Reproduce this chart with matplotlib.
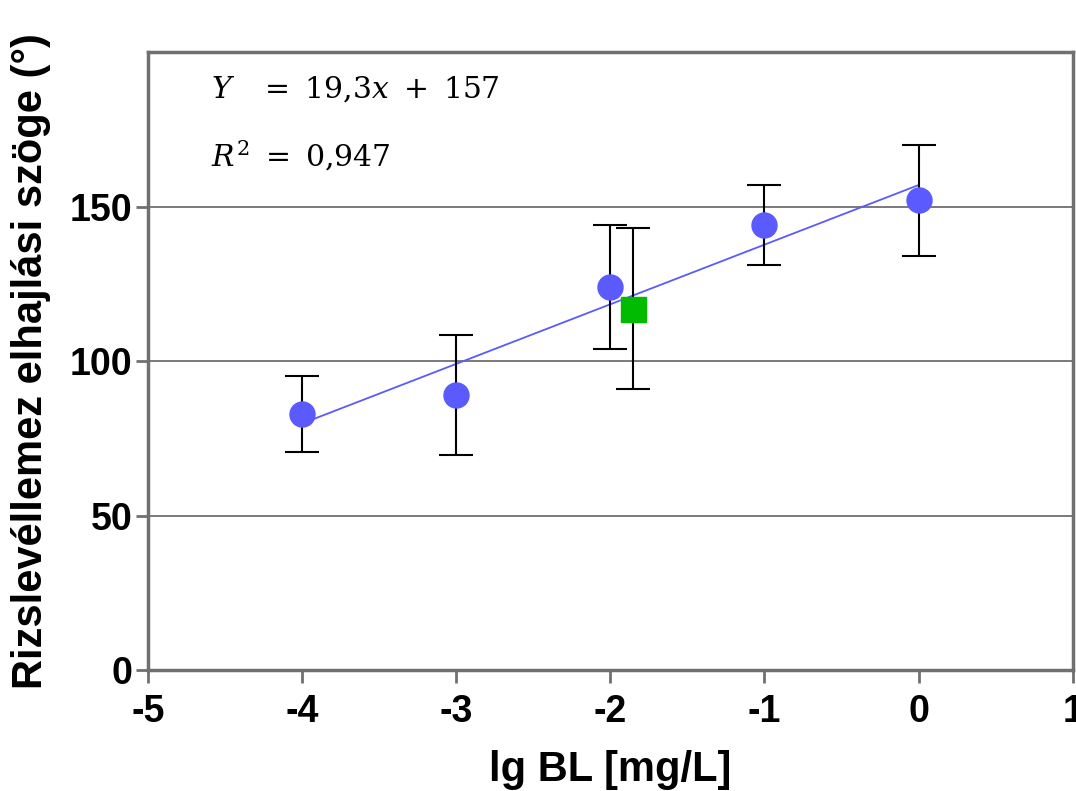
import matplotlib
matplotlib.use("Agg")
import matplotlib.pyplot as plt
import numpy as np

plt.rcParams['font.family'] = ['Liberation Sans', 'DejaVu Sans']
plt.rcParams['mathtext.fontset'] = 'dejavuserif'
plt.rcParams['axes.unicode_minus'] = False

# BL concentration series (log scale) and leaf angle
lg_bl = [-4, -3, -2, -1, 0]
angle = [83, 89, 124, 144, 152]
angle_err_hi = [12.2, 19.4, 20.0, 12.9, 17.8]
angle_err_lo = [12.4, 19.3, 20.0, 12.9, 18.0]

# unknown sample
sample_x = [-1.85]
sample_y = [117]
sample_err_hi = [26]
sample_err_lo = [26]

slope, intercept = 19.3, 157
r2 = 0.947

grid_col = '#707070'

fig = plt.figure(figsize=(10.76, 7.91), dpi=100)
ax = fig.add_axes([0.1375, 0.153, 0.8595, 0.781])

for y in [50, 100, 150]:
    ax.axhline(y, color=grid_col, lw=1.3, zorder=0)

fit_x = np.array([lg_bl[0], lg_bl[-1]])
ax.plot(fit_x, slope * fit_x + intercept, color='#5a5aff', lw=1.3, zorder=2)

ax.errorbar(lg_bl, angle, yerr=[angle_err_lo, angle_err_hi], fmt='o',
            color='#5a5aff', ms=18, ecolor='black', elinewidth=1.5,
            capsize=12, capthick=1.5, zorder=3)
ax.errorbar(sample_x, sample_y, yerr=[sample_err_lo, sample_err_hi], fmt='s',
            color='#00bb00', ms=18, ecolor='black', elinewidth=1.5,
            capsize=12, capthick=1.5, zorder=3)

ax.set_xlim(-5, 1)
ax.set_ylim(0, 200)
ax.set_xticks(range(-5, 2))
ax.set_yticks([0, 50, 100, 150])
for s in ax.spines.values():
    s.set_color(grid_col)
    s.set_linewidth(2.5)
ax.tick_params(direction='out', length=9, width=2, color=grid_col,
               labelsize=27)
ax.tick_params(axis='x', pad=8)
ax.tick_params(axis='y', pad=2)
for lab in ax.get_xticklabels() + ax.get_yticklabels():
    lab.set_fontweight('bold')

ax.set_xlabel('lg BL [mg/L]', fontsize=30, fontweight='bold', labelpad=15)
ax.set_ylabel('Rizslevéllemez elhajlási szöge (°)', fontsize=30,
              fontweight='bold', labelpad=14)

eq = rf'$Y\ \ \ =\ {str(slope).replace(".", "{,}")}x\ +\ {intercept}$'
r2_txt = rf'$R^2\ =\ {str(r2).replace(".", "{,}")}$'
ax.text(0.068, 0.94, eq, transform=ax.transAxes,
        fontsize=21.5, va='center', ha='left')
ax.text(0.068, 0.832, r2_txt, transform=ax.transAxes,
        fontsize=21.5, va='center', ha='left')

fig.savefig('out.png', dpi=100)
